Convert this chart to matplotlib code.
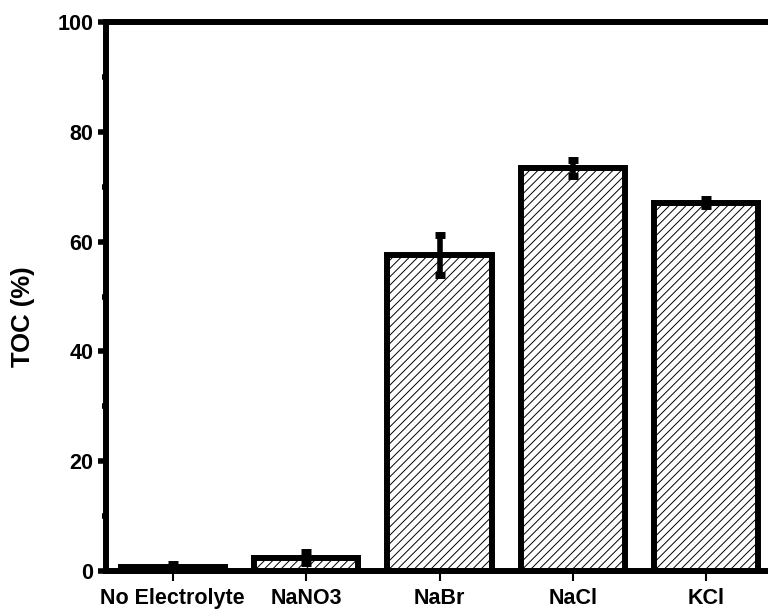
import matplotlib
matplotlib.use("Agg")
import matplotlib.pyplot as plt

categories = ["No Electrolyte", "NaNO3", "NaBr", "NaCl", "KCl"]
toc = [0.8, 2.4, 57.6, 73.4, 67.1]
toc_err = [0.5, 1.0, 3.6, 1.5, 0.7]
yticks = [0, 20, 40, 60, 80, 100]

plt.rcParams["font.family"] = ["Liberation Sans", "DejaVu Sans"]
plt.rcParams["font.weight"] = "bold"
plt.rcParams["hatch.linewidth"] = 0.7

fig = plt.figure(figsize=(7.68, 6.11), dpi=100)
ax = fig.add_axes([106 / 768, 40 / 611, 667 / 768, 549 / 611])

x = range(len(categories))
bars = ax.bar(x, toc, width=0.78, color="white", edgecolor="black",
              linewidth=4.3, hatch="////", zorder=2)
for b in bars:
    b.set_joinstyle("miter")
ax.errorbar(x, toc, yerr=toc_err, fmt="none", ecolor="black",
            elinewidth=4, capsize=3.3, capthick=5, zorder=3)

ax.set_xlim(-0.5, 4.5)
ax.set_ylim(0, 100)
ax.set_xticks(list(x))
ax.set_xticklabels(categories, fontsize=15.5, fontweight="bold")
ax.set_yticks(yticks)
ax.set_yticklabels([str(v) for v in yticks], fontsize=15.5, fontweight="bold")
ax.set_yticks([10, 30, 50, 70, 90], minor=True)
ax.tick_params(axis="y", which="major", direction="out", length=6, width=4, pad=3)
ax.tick_params(axis="y", which="minor", direction="out", length=3, width=4)
ax.tick_params(axis="x", which="major", direction="out", length=7, width=1.5, pad=5)
for s in ax.spines.values():
    s.set_linewidth(4.3)
ax.set_ylabel("TOC (%)", fontsize=18.5, fontweight="bold")
ax.yaxis.set_label_coords(-0.106, 0.464)

fig.savefig("out.png", dpi=100)
